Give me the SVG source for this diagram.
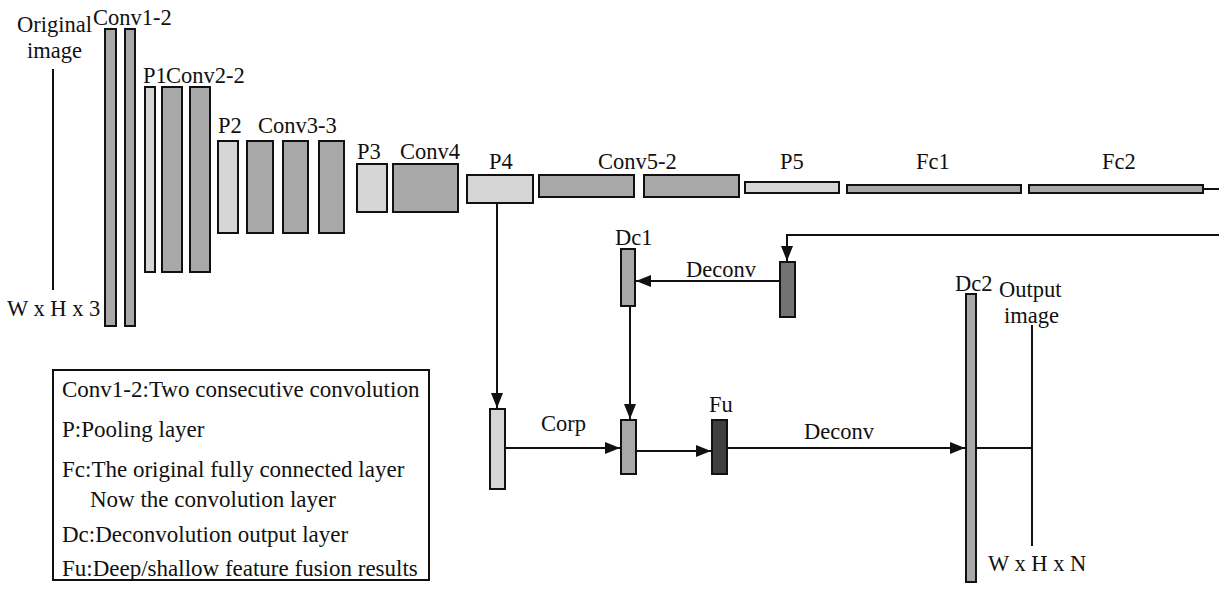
<svg xmlns="http://www.w3.org/2000/svg" width="1219" height="592" viewBox="0 0 1219 592">
<defs>
<style>
.t{font-family:"Liberation Serif","Times New Roman",serif;font-size:22.5px;fill:#111}
.lg{font-size:23px}
.b{stroke:#111;stroke-width:2}
.mid{fill:#a8a8a8}
.lt{fill:#d6d6d6}
.dk{fill:#737373}
.dd{fill:#3f3f3f}
.c{fill:none;stroke:#111;stroke-width:2}
</style>
<marker id="ah" markerUnits="userSpaceOnUse" markerWidth="16" markerHeight="12" refX="15" refY="6" orient="auto">
<path d="M0,0 L15,6 L0,12 Z" fill="#111"/>
</marker>
</defs>
<rect width="1219" height="592" fill="#fff"/>

<g id="input">
<text class="t" x="17" y="32">Original</text>
<text class="t" x="27" y="58">image</text>
<line x1="53" y1="69" x2="53" y2="290" stroke="#111" stroke-width="2"/>
<text class="t" x="7" y="316">W x H x 3</text>
</g>

<g id="conv1">
<text class="t" x="93" y="25">Conv1-2</text>
<rect class="b mid" x="105" y="29" width="11" height="297"/>
<rect class="b mid" x="125" y="29" width="10" height="297"/>
</g>
<g id="p1">
<text class="t" x="143" y="83">P1</text>
<rect class="b lt" x="145" y="87" width="10" height="185"/>
</g>
<g id="conv2">
<text class="t" x="166" y="83">Conv2-2</text>
<rect class="b mid" x="162" y="87" width="20" height="185"/>
<rect class="b mid" x="190" y="87" width="20" height="185"/>
</g>
<g id="p2">
<text class="t" x="218" y="133">P2</text>
<rect class="b lt" x="218" y="141" width="20" height="92"/>
</g>
<g id="conv3">
<text class="t" x="258" y="133">Conv3-3</text>
<rect class="b mid" x="247" y="141" width="26" height="92"/>
<rect class="b mid" x="283" y="141" width="25" height="92"/>
<rect class="b mid" x="319" y="141" width="25" height="92"/>
</g>
<g id="p3">
<text class="t" x="357" y="159">P3</text>
<rect class="b lt" x="357" y="164" width="30" height="48"/>
</g>
<g id="conv4">
<text class="t" x="400" y="159">Conv4</text>
<rect class="b mid" x="393" y="164" width="65" height="48"/>
</g>
<g id="p4">
<text class="t" x="489" y="169">P4</text>
<rect class="b lt" x="467" y="175" width="66" height="28"/>
</g>
<g id="conv5">
<text class="t" x="598" y="169">Conv5-2</text>
<rect class="b mid" x="539" y="175" width="95" height="22"/>
<rect class="b mid" x="644" y="175" width="95" height="22"/>
</g>
<g id="p5">
<text class="t" x="780" y="169">P5</text>
<rect class="b lt" x="745" y="182" width="94" height="11"/>
</g>
<g id="fc1">
<text class="t" x="916" y="169">Fc1</text>
<rect class="b mid" x="847" y="185" width="174" height="8"/>
</g>
<g id="fc2">
<text class="t" x="1102" y="169">Fc2</text>
<rect class="b mid" x="1029" y="185" width="174" height="8"/>
</g>
<g id="score">
<rect class="b dk" x="780" y="262" width="15" height="55"/>
</g>
<g id="dc1">
<text class="t" x="615" y="245">Dc1</text>
<rect class="b mid" x="621" y="249" width="14" height="57"/>
</g>
<g id="crop">
<rect class="b lt" x="490" y="409" width="15" height="80"/>
</g>
<g id="sum">
<rect class="b mid" x="621" y="420" width="15" height="54"/>
</g>
<g id="fu">
<text class="t" x="709" y="412">Fu</text>
<rect class="b dd" x="712" y="420" width="15" height="54"/>
</g>
<g id="dc2">
<text class="t" x="955" y="291">Dc2</text>
<rect class="b mid" x="966" y="294" width="10" height="288"/>
</g>
<g id="output">
<text class="t" x="999" y="297">Output</text>
<text class="t" x="1004" y="323">image</text>
<line x1="1032" y1="325" x2="1032" y2="546" stroke="#111" stroke-width="2"/>
<text class="t" x="988" y="571">W x H x N</text>
</g>

<g id="connectors">
<path class="c" d="M497,203 V408" marker-end="url(#ah)"/>
<path class="c" d="M1203,189 H1219"/>
<path class="c" d="M1219,235 H787 V261" marker-end="url(#ah)"/>
<path class="c" d="M780,281 H636" marker-end="url(#ah)"/>
<text class="t" x="686" y="277">Deconv</text>
<path class="c" d="M630,306 V419" marker-end="url(#ah)"/>
<path class="c" d="M505,448 H620" marker-end="url(#ah)"/>
<text class="t" x="541" y="431">Corp</text>
<path class="c" d="M636,451 H711" marker-end="url(#ah)"/>
<path class="c" d="M727,448 H965" marker-end="url(#ah)"/>
<text class="t" x="804" y="439">Deconv</text>
<path class="c" d="M976,448 H1032"/>
</g>

<g id="legend">
<rect x="53" y="370" width="376" height="210" fill="#fff" stroke="#111" stroke-width="2"/>
<text class="t lg" x="62" y="397">Conv1-2:Two consecutive convolution</text>
<text class="t lg" x="62" y="437">P:Pooling layer</text>
<text class="t lg" x="62" y="477">Fc:The original fully connected layer</text>
<text class="t lg" x="90" y="507">Now the convolution layer</text>
<text class="t lg" x="62" y="542">Dc:Deconvolution output layer</text>
<text class="t lg" x="62" y="576">Fu:Deep/shallow feature fusion results</text>
</g>
</svg>
